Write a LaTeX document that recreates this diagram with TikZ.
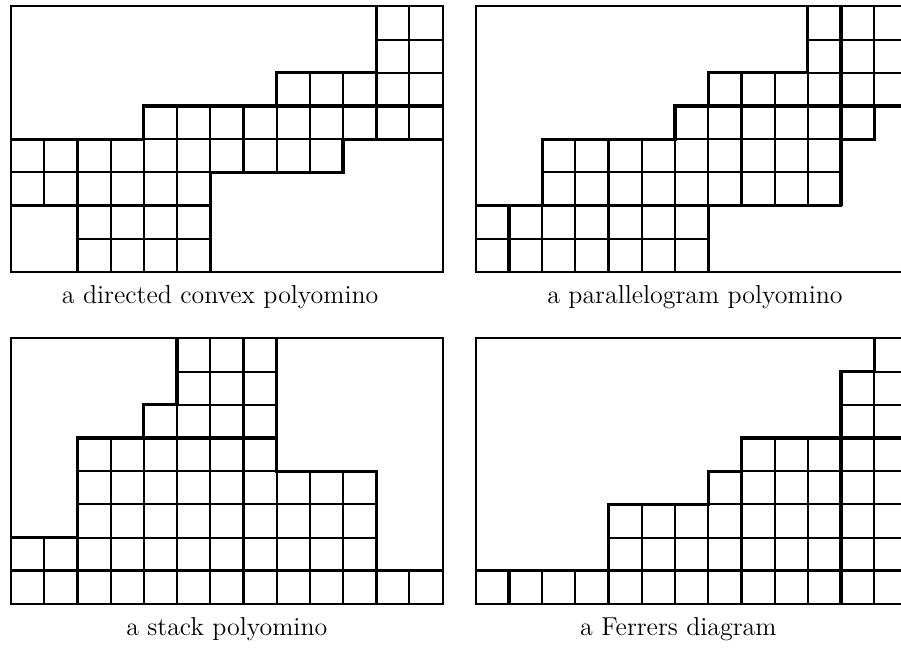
\documentclass[tikz,border=0pt]{standalone}
\usetikzlibrary{positioning}
\tikzset{
  cell/.style={line width=0.8pt},
  cut/.style={line width=1.35pt},
  caption/.style={font=\fontsize{11.1}{13.3}\selectfont, inner sep=0pt}
}
\begin{document}
\begin{tikzpicture}[x=0.5cm,y=0.5cm]
  \useasboundingbox (-0.331,-11.295) rectangle (26.807,8.193);
  % directed convex
  \begin{scope}
    \foreach \y/\a/\b in {0/2/5,1/2/5,2/0/5,3/0/9,4/4/12,5/8/12,6/11/12,7/11/12}
      {\foreach \x in {\a,...,\b} \draw[cell] (\x,\y) rectangle ++(1,1);}
    \draw[cell] (0,0) rectangle (13,8);
    \draw[cut] (0,4) -- (4,4) -- (4,5) -- (13,5);
    \draw[cut] (8,5) -- (8,6) -- (11,6);
    \draw[cut] (11,8) -- (11,4);
    \draw[cut] (13,4) -- (10,4) -- (10,3) -- (6,3) -- (6,0);
    \draw[cut] (7,5) -- (7,3);
    \draw[cut] (0,2) -- (6,2);
    \draw[cut] (2,4) -- (2,0);
    \node[caption] (capdc) at (6.3,-0.75) {a directed convex polyomino};
  \end{scope}
  % parallelogram
  \begin{scope}[xshift=7cm]
    \foreach \y/\a/\b in {0/0/6,1/0/6,2/2/10,3/2/10,4/6/11,5/7/12,6/10/12,7/10/12}
      {\foreach \x in {\a,...,\b} \draw[cell] (\x,\y) rectangle ++(1,1);}
    \draw[cell] (0,0) rectangle (13,8);
    \draw[cut] (10,8) -- (10,6) -- (7,6) -- (7,5) -- (6,5) -- (6,4) -- (2,4) -- (2,2);
    \draw[cut] (0,2) -- (11,2);
    \draw[cut] (11,8) -- (11,2);
    \draw[cut] (11,4) -- (12,4) -- (12,5) -- (13,5);
    \draw[cut] (7,5) -- (12,5);
    \draw[cut] (8,6) -- (8,2);
    \draw[cut] (1,0) -- (1,2);
    \draw[cut] (4,0) -- (4,4);
    \draw[cut] (7,0) -- (7,2);
    \node[caption] (cappa) at (6.6,-0.75) {a parallelogram polyomino};
  \end{scope}
  % stack
  \begin{scope}[yshift=-5cm]
    \foreach \y/\a/\b in {0/0/12,1/0/10,2/2/10,3/2/10,4/2/7,5/4/7,6/5/7,7/5/7}
      {\foreach \x in {\a,...,\b} \draw[cell] (\x,\y) rectangle ++(1,1);}
    \draw[cell] (0,0) rectangle (13,8);
    \draw[cut] (5,8) -- (5,6) -- (4,6) -- (4,5) -- (2,5) -- (2,0);
    \draw[cut] (4,5) -- (8,5);
    \draw[cut] (8,8) -- (8,4) -- (11,4) -- (11,0);
    \draw[cut] (7,8) -- (7,0);
    \draw[cut] (0,2) -- (2,2);
    \draw[cut] (0,1) -- (13,1);
    \node[caption] (capst) at (6.5,-0.75) {a stack polyomino};
  \end{scope}
  % Ferrers
  \begin{scope}[xshift=7cm,yshift=-5cm]
    \foreach \y/\a/\b in {0/0/12,1/4/12,2/4/12,3/7/12,4/8/12,5/11/12,6/11/12,7/12/12}
      {\foreach \x in {\a,...,\b} \draw[cell] (\x,\y) rectangle ++(1,1);}
    \draw[cell] (0,0) rectangle (13,8);
    \draw[cut] (12,8) -- (12,7) -- (11,7) -- (11,0);
    \draw[cut] (8,0) -- (8,5) -- (13,5);
    \draw[cut] (8,4) -- (7,4) -- (7,3) -- (4,3) -- (4,0);
    \draw[cut] (0,1) -- (13,1);
    \draw[cut] (1,0) -- (1,1);
    \node[caption] (capfe) at (6.1,-0.75) {a Ferrers diagram};
  \end{scope}
\end{tikzpicture}
\end{document}
